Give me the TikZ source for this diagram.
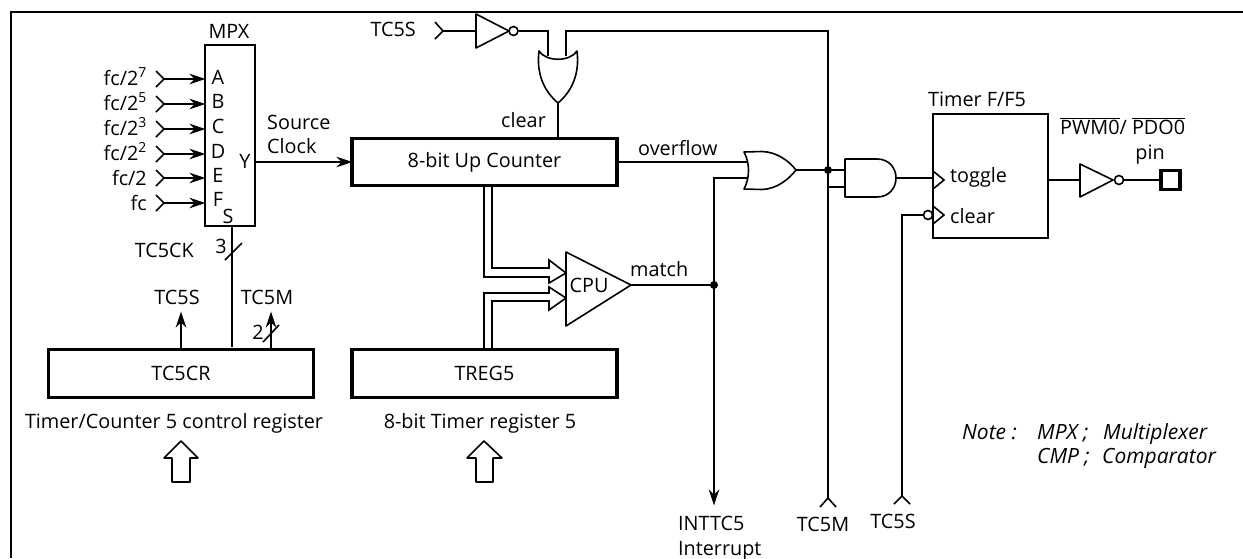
\documentclass[tikz,border=0pt]{standalone}
\usepackage{fontspec}
\setmainfont{Open Sans}
\usetikzlibrary{arrows.meta}
\newcommand{\lblfont}{\fontsize{19.8}{22}\selectfont}
\tikzset{
  wire/.style={line width=1.6pt,line join=miter},
  frameline/.style={line width=2.4pt},
  gate/.style={line width=1.6pt,line join=round,fill=white},
  thinbox/.style={draw,line width=1.6pt,inner sep=0pt},
  heavybox/.style={draw,line width=3.6pt,inner sep=0pt,font=\lblfont},
  label/.style={inner sep=0pt,anchor=mid,font=\lblfont,yshift=-3.5pt},
  lab w/.style={label,anchor=mid west},
  lab e/.style={label,anchor=mid east},
  arr/.style={wire,-{Stealth[length=16pt,width=10.5pt,inset=5pt]},shorten >=-0.5pt},
  dot/.style={circle,fill=black,inner sep=0pt,minimum size=8pt},
  bubble/.style={circle,draw,fill=white,line width=1.6pt,inner sep=0pt,minimum size=9pt},
  note/.style={lab w,font=\fontsize{21}{24}\selectfont\itshape},
}
\newcommand{\barred}[1]{$\overline{\hbox{#1}}$}
\newcommand{\lowered}[1]{\raisebox{-2pt}{#1}}
\begin{document}
\begin{tikzpicture}[x=1pt,y=-1pt]
\useasboundingbox (0,0) rectangle (1243,558);
\draw[frameline] (11,558) -- (11,12) -- (1243,12);

% boxes
\node[thinbox,minimum width=50pt,minimum height=181pt] (mpx) at (230,135.5) {};
\node[heavybox,minimum width=265pt,minimum height=47pt] (counter) at (484.5,162) {\lowered{8-bit Up Counter}};
\node[heavybox,minimum width=265pt,minimum height=48pt] (treg) at (484.5,373.5) {\lowered{TREG5}};
\node[heavybox,minimum width=265pt,minimum height=48pt] (tccr) at (181,373.5) {\lowered{TC5CR}};
\node[thinbox,minimum width=115pt,minimum height=124pt] (ff) at (990.5,176) {};
\node[draw,line width=3.2pt,minimum size=19pt,inner sep=0pt] (pin) at (1170.5,180) {};

% MPX labels
\node[label] (lmpx) at (229,32) {MPX};
\foreach \n/\t/\y/\ly in {A/A/79/78,B/B/104/102,C/C/129/127,D/D/154/152,E/E/178/176,F/F/203/200}{
  \node[label] (let\n) at (218,\ly) {\t};
  \coordinate (src\n) at (164,\y);
  \coordinate (dst\n) at (205,\y);
  \draw[wire,line join=miter] (156,\y-8) -- (src\n) -- (156,\y+8);
  \draw[arr] (src\n) -- (dst\n);
}
\node[lab e] (fa) at (147,79) {fc/2\textsuperscript{7}};
\node[lab e] (fb) at (147,104) {fc/2\textsuperscript{5}};
\node[lab e] (fc) at (147,129) {fc/2\textsuperscript{3}};
\node[lab e] (fd) at (147,154) {fc/2\textsuperscript{2}};
\node[lab e] (fe) at (147,179) {fc/2};
\node[lab e] (ff2) at (147,204) {fc};
\node[label] (lety) at (245,162) {Y};
\node[label] (lets) at (228,217) {S};
\node[lab w] (lsrc) at (267,123) {Source};
\node[lab w] (lclk) at (267,147) {Clock};
\coordinate (yout) at (255,162);
\coordinate (cin) at (352,162);
\draw[arr] (yout) -- (cin);

% select line
\coordinate (sel) at (232,226);
\coordinate (selb) at (232,347);
\draw[wire] (sel) -- (selb);
\coordinate (s3a) at (225,260); \coordinate (s3b) at (242,243);
\draw[wire] (s3a) -- (s3b);
\node[label] (n3) at (221,247) {3};
\node[lab e] (ltck) at (194,251) {TC5CK};

% TC5CR outputs
\coordinate (t5sa) at (181,350); \coordinate (t5sb) at (181,312);
\coordinate (t5ma) at (271,350); \coordinate (t5mb) at (271,312);
\draw[arr] (t5sa) -- (t5sb);
\draw[arr] (t5ma) -- (t5mb);
\coordinate (s2a) at (263,342); \coordinate (s2b) at (279,325);
\draw[wire] (s2a) -- (s2b);
\node[label] (n2) at (258,333) {2};
\node[label] (lts) at (177,298) {TC5S};
\node[label] (ltm) at (267,298) {TC5M};

% captions and open arrows
\node[label] (captcr) at (174,422) {Timer/Counter 5 control register};
\node[label] (captreg) at (480,422) {8-bit Timer register 5};
\draw[gate] (181,441) -- (198,458) -- (190,458) -- (190,482) -- (172,482) -- (172,458) -- (164,458) -- cycle;
\draw[gate] (484,441) -- (502,458) -- (493,458) -- (493,482) -- (476,482) -- (476,458) -- (467,458) -- cycle;

% top inverter and OR gate
\node[lab e] (ltop) at (416,30) {TC5S};
\coordinate (chtop) at (443,31);
\draw[wire] (435,22) -- (chtop) -- (435,39);
\coordinate (invin) at (476,31);
\draw[wire] (chtop) -- (invin);
\draw[gate] (invin |- 0,14) -- (509,31) -- (invin |- 0,48) -- cycle;
\node[bubble] (bub1) at (513.5,31) {};
\coordinate (ora) at (548,56);
\coordinate (orb) at (566,56);
\coordinate (tm) at (828,187);
\draw[wire] (bub1) -- (548,31) -- (ora);
\draw[wire] (orb) -- (566,31) -- (828,31) -- (tm);
\draw[gate] (539,51) .. controls (546,62) and (570,62) .. (577,51)
  .. controls (580,75) and (571,92) .. (558,103)
  .. controls (545,92) and (536,75) .. (539,51) -- cycle;
\coordinate (orout) at (558,103);
\draw[wire] (orout) -- (orout |- counter.north);
\node[lab w] (lclr) at (501,121) {clear};

% overflow OR
\node[lab w] (lovf) at (638,149) {overflow};
\coordinate (or2a) at (747,162);
\coordinate (or2b) at (747,178);
\draw[wire] (counter.east) -- (or2a);
\coordinate (mj) at (714,285);
\draw[wire] (mj) -- (714,178) -- (or2b);
\draw[gate] (744,152) -- (762,151.5) .. controls (777,152) and (789,161) .. (796,170)
  .. controls (789,179) and (777,189) .. (762,189.5) -- (744,189)
  .. controls (750,178) and (750,163) .. (744,152) -- cycle;
\coordinate (or2out) at (796,170);
\node[dot] (dj) at (828,170) {};
\coordinate (anda) at (845,170);
\coordinate (andb) at (845,187);
\draw[wire] (or2out) -- (dj) -- (anda);
\draw[wire] (tm) -- (andb);
\draw[gate] (845,159) -- (877,159) .. controls (889,159) and (896,168) .. (896,178)
  .. controls (896,188) and (889,197) .. (877,197) -- (845,197) -- cycle;
\coordinate (andout) at (896,178);
\coordinate (tgl) at (933,178);
\draw[wire] (andout) -- (tgl);

% flip-flop
\node[lab w] (lff) at (928,100) {Timer F/F5};
\draw[wire] (933,171) -- (944,180) -- (933,189);
\draw[wire] (933,206) -- (944,215) -- (933,224);
\node[lab w] (ltgl) at (950,176) {toggle};
\node[lab w] (lclr2) at (950,217) {clear};
\node[bubble] (bub2) at (928,215) {};
\coordinate (tsb) at (902,496);
\draw[wire] (bub2) -- (902,215) -- (tsb);
\draw[wire] (894,504) -- (tsb) -- (910,504);
\coordinate (tmb) at (828,498);
\draw[wire] (tm) -- (tmb);
\draw[wire] (820,507) -- (tmb) -- (836,507);
\node[label] (lbm) at (823,525) {TC5M};
\node[label] (lbs) at (893,522) {TC5S};

% output inverter
\coordinate (ffout) at (1048,180);
\coordinate (inv2) at (1080,180);
\draw[wire] (ffout) -- (inv2);
\draw[gate] (1080,164) -- (1113,180) -- (1080,197) -- cycle;
\node[bubble] (bub3) at (1119,180) {};
\draw[wire] (bub3) -- (pin);
\node[lab w] (lpwm) at (1060,128) {\barred{PWM0}/ \barred{PDO0}};
\node[label] (lpin) at (1150,153) {pin};

% buses to comparator
\draw[wire] (484,186) -- (484,277) -- (549,277) -- (549,283) -- (566,273) -- (549,260) -- (549,268) -- (492,268) -- (492,186);
\draw[wire] (484,349) -- (484,293) -- (549,293) -- (549,287) -- (566,298) -- (549,310) -- (549,301) -- (492,301) -- (492,349);
\draw[gate] (566,252) -- (631,285) -- (566,326) -- cycle;
\node[label] (lcpu) at (589,286) {CPU};
\coordinate (cmpout) at (631,285);
\draw[wire] (cmpout) -- (mj);
\node[dot] (mdot) at (mj) {};
\node[lab w] (lmatch) at (630,270) {match};
\coordinate (intb) at (714,505);
\draw[arr] (mj) -- (intb);
\node[lab w] (lint) at (678,524) {INTTC5};
\node[lab w] (lint2) at (678,549) {Interrupt};

% note
\node[note] (n1) at (962,433) {Note :};
\node[note] (n2a) at (1037,433) {MPX ;};
\node[note] (n2b) at (1103,433) {Multiplexer};
\node[note] (n3a) at (1037,457) {CMP ;};
\node[note] (n3b) at (1102,457) {Comparator};
\end{tikzpicture}
\end{document}
